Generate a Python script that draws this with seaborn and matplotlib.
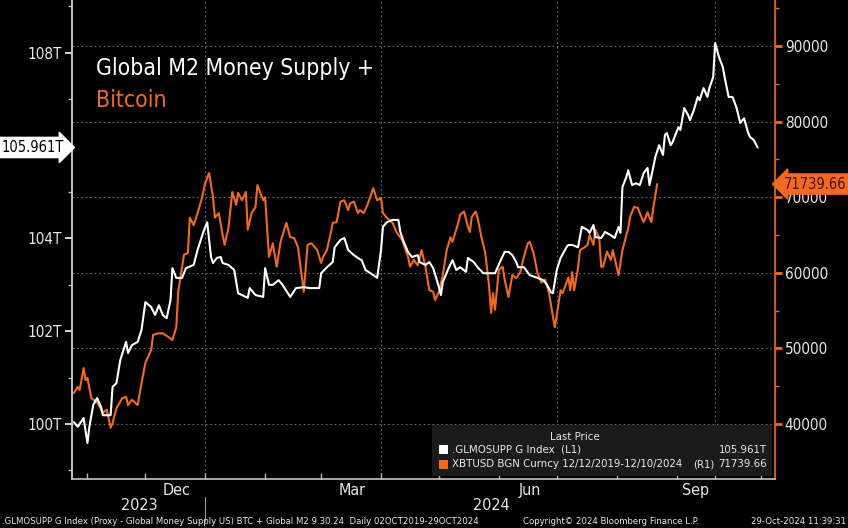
import pandas as pd
import matplotlib
matplotlib.use('Agg')
import matplotlib.pyplot as plt
import matplotlib.dates as mdates
import matplotlib.transforms as mtransforms
from matplotlib.patches import Rectangle
from matplotlib.ticker import FixedLocator, MultipleLocator, NullFormatter
import seaborn as sns

# day offsets from 2024-01-01 (as plotted on the chart's shifted axis)
base = pd.Timestamp('2024-01-01')

m2_day = [-68, -66, -63, -61, -60, -58, -56, -54, -53, -49, -48, -46, -44, -41, -40, -38, -35, -33,
          -31, -28, -26, -24, -22, -20, -18, -17, -15, -12, -10, -6, -4, -1, 1, 3, 4, 6, 8, 9, 12, 15,
          17, 19, 22, 23, 26, 30, 31, 33, 35, 38, 40, 44, 47, 51, 54, 59, 60, 63, 66, 67, 70, 72, 74,
          77, 79, 81, 83, 87, 89, 91, 92, 94, 97, 100, 101, 103, 105, 107, 110, 111, 114, 116, 118,
          121, 122, 123, 126, 128, 130, 132, 135, 136, 139, 141, 144, 148, 150, 153, 155, 157, 159,
          161, 162, 165, 168, 172, 175, 177, 179, 180, 182, 184, 187, 188, 190, 193, 195, 198, 199,
          201, 202, 205, 207, 210, 212, 214, 215, 216, 218, 219, 221, 223, 225, 227, 229, 230, 232,
          233, 235, 237, 238, 239, 241, 242, 245, 246, 248, 250, 251, 253, 255, 256, 258, 260, 261,
          263, 264, 266, 268, 269, 271, 273, 275, 277, 279, 281, 282, 284, 286]
m2_value = [100.04, 99.94, 100.13, 99.59, 99.94, 100.41, 100.56, 100.37, 100.19, 100.19, 100.80, 100.88,
            101.38, 101.77, 101.53, 101.70, 101.77, 102.03, 102.63, 102.52, 102.35, 102.56, 102.35,
            102.28, 102.67, 103.36, 103.15, 103.15, 103.36, 103.43, 103.75, 104.14, 104.35, 103.60,
            103.47, 103.58, 103.60, 103.47, 103.43, 103.32, 102.82, 102.78, 102.72, 102.93, 102.78,
            102.74, 103.36, 103.00, 103.00, 103.10, 103.00, 102.74, 102.93, 102.95, 102.93, 102.93,
            103.25, 103.38, 103.49, 103.81, 103.97, 104.01, 103.75, 103.64, 103.58, 103.53, 103.32,
            103.21, 103.15, 103.75, 104.25, 104.35, 104.40, 104.40, 104.14, 103.90, 103.71, 103.60,
            103.64, 103.49, 103.43, 103.49, 103.36, 102.95, 102.78, 103.06, 103.36, 103.53, 103.32,
            103.38, 103.28, 103.58, 103.49, 103.38, 103.25, 103.25, 103.25, 103.53, 103.71, 103.71,
            103.64, 103.49, 103.38, 103.38, 103.21, 103.15, 103.10, 103.00, 102.84, 102.82, 103.32,
            103.58, 103.81, 103.86, 103.86, 103.81, 104.25, 104.18, 104.12, 104.29, 104.03, 104.01,
            104.14, 104.07, 104.01, 104.25, 104.12, 105.11, 105.32, 105.47, 105.15, 105.19, 105.15,
            105.41, 105.52, 105.15, 105.54, 105.75, 106.01, 105.80, 106.23, 106.27, 106.01, 106.08,
            106.40, 106.34, 106.81, 106.66, 106.55, 106.77, 107.05, 106.98, 107.24, 107.05, 107.24,
            107.48, 108.21, 107.91, 107.69, 107.46, 107.05, 107.05, 106.83, 106.49, 106.59, 106.29,
            106.19, 106.12, 105.961]

btc_day = [-68, -66, -65, -63, -62, -61, -59, -56, -53, -51, -49, -48, -46, -43, -41, -40, -38, -35,
           -33, -31, -28, -27, -24, -22, -19, -17, -15, -14, -11, -9, -8, -6, -4, -2, 0, 2, 4, 5, 7, 9,
           10, 12, 14, 16, 17, 19, 21, 22, 24, 26, 27, 30, 31, 33, 35, 37, 39, 42, 44, 46, 48, 51, 53,
           55, 58, 60, 61, 63, 65, 66, 68, 70, 72, 74, 75, 77, 79, 80, 82, 84, 87, 89, 91, 92, 94, 97,
           99, 102, 105, 106, 108, 110, 112, 114, 116, 118, 119, 121, 123, 125, 127, 128, 131, 132,
           134, 136, 137, 138, 140, 141, 143, 145, 147, 148, 149, 150, 152, 154, 155, 157, 159, 161,
           163, 165, 167, 168, 170, 172, 174, 176, 178, 180, 181, 182, 184, 185, 188, 189, 190, 191,
           193, 194, 196, 198, 199, 201, 202, 204, 205, 206, 208, 210, 211, 213, 214, 216, 219, 220,
           222, 224, 225, 227, 229, 231, 232, 234]
btc_value = [44100, 44900, 44500, 47400, 45800, 46100, 43400, 42900, 41500, 41900, 39500, 40100, 42100,
             43400, 43600, 42500, 43200, 42500, 45400, 48100, 49800, 51800, 52000, 52000, 51500, 51100,
             52800, 57500, 62400, 62600, 67300, 66300, 67900, 69600, 71900, 73200, 70000, 67300, 67900,
             65000, 63700, 65900, 70700, 69000, 70600, 69600, 70700, 65700, 67900, 68700, 71600, 69600,
             70000, 62100, 63900, 60800, 64100, 66600, 64700, 64600, 63400, 57500, 63700, 63900, 63000,
             61300, 62100, 63000, 65300, 66600, 66700, 69400, 69600, 68300, 69200, 69400, 67900, 68300,
             67900, 69000, 71200, 69600, 69900, 67900, 67300, 66600, 65400, 64300, 62100, 60800, 61700,
             61000, 63000, 60800, 57700, 57500, 56400, 57500, 59700, 63000, 64700, 64100, 66600, 67700,
             68100, 66100, 65400, 67400, 68100, 67300, 64700, 62600, 58100, 54700, 57300, 55100, 60400,
             60800, 59100, 56800, 59700, 59300, 60000, 62100, 63900, 64100, 62600, 60000, 58700, 59100,
             57300, 54200, 52800, 54400, 57700, 57300, 59400, 57700, 60100, 57700, 60600, 63000, 63300,
             63700, 65000, 63700, 65700, 64600, 60800, 60800, 62800, 61700, 63000, 60800, 59700, 63000,
             65900, 67400, 68700, 68600, 67900, 66700, 68000, 66700, 68700, 71739.66]

m2_last = 105.961
btc_last = 71739.66

x_tick_dates = ['2023-11-01', '2023-12-01', '2024-01-01', '2024-02-01', '2024-03-01', '2024-04-01',
                '2024-05-01', '2024-06-01', '2024-07-01', '2024-08-01', '2024-09-01', '2024-09-21',
                '2024-10-15']
month_labels = ['Dec', 'Mar', 'Jun', 'Sep']
month_label_dates = ['2023-12-17', '2024-03-17', '2024-06-17', '2024-09-11']
grid_dates = ['2024-01-01', '2024-04-01', '2024-07-01', '2024-09-21']
year_labels = ['2023', '2024']
year_label_dates = ['2023-11-28', '2024-05-28']

orange = '#f26a21'
fg = '#e8e8e8'

m2 = pd.DataFrame({'date': base + pd.to_timedelta(m2_day, unit='D'), 'value': m2_value})
btc = pd.DataFrame({'date': base + pd.to_timedelta(btc_day, unit='D'), 'value': btc_value})

sns.set_theme(style='dark', rc={'figure.facecolor': 'black', 'axes.facecolor': 'black',
                                'savefig.facecolor': 'black', 'text.color': fg,
                                'xtick.color': fg, 'ytick.color': fg, 'axes.labelcolor': fg})
plt.rcParams['font.family'] = ['DejaVu Sans']
plt.rcParams['font.stretch'] = 'condensed'

fig = plt.figure(figsize=(8.48, 5.28), dpi=100)
ax = fig.add_axes([72 / 848, 49 / 528, 703 / 848, 479 / 528])
ax2 = ax.twinx()

sns.lineplot(data=btc, x='date', y='value', ax=ax2, color=orange, lw=1.5, estimator=None)
sns.lineplot(data=m2, x='date', y='value', ax=ax, color='white', lw=1.5, estimator=None)

ax.set_zorder(ax2.get_zorder() + 1)
ax.patch.set_visible(False)
ax2.patch.set_facecolor('black')

ax.set_xlim(pd.Timestamp('2023-10-24'), pd.Timestamp('2024-10-22'))
ax.set_ylim(98.815, 109.14)
ax2.set_ylim(32725, 96085)

# spines
for a in (ax, ax2):
    a.spines['top'].set_visible(False)
    a.set_xlabel('')
    a.set_ylabel('')
    a.grid(False)
ax.spines['left'].set_color('#d8d8d8')
ax.spines['bottom'].set_color('#bdbdbd')
ax.spines['right'].set_visible(False)
ax2.spines['left'].set_visible(False)
ax2.spines['bottom'].set_visible(False)
ax2.spines['right'].set_color(orange)
ax2.spines['right'].set_linewidth(1.2)

# left axis ticks
ax.yaxis.set_major_locator(FixedLocator([100, 102, 104, 106, 108]))
ax.set_yticklabels(['100T', '102T', '104T', '', '108T'], fontsize=11)
ax.yaxis.set_minor_locator(MultipleLocator(1))
ax.tick_params(axis='y', which='major', length=5, width=1.2, color='white', pad=2, left=True)
ax.tick_params(axis='y', which='minor', length=3, width=1, color='#bbbbbb', left=True)

# right axis ticks
ax2.yaxis.set_major_locator(FixedLocator([40000, 50000, 60000, 70000, 80000, 90000]))
ax2.set_yticklabels(['40000', '50000', '60000', '70000', '80000', '90000'], fontsize=11)
ax2.yaxis.set_minor_locator(FixedLocator([45000, 55000, 65000, 75000, 85000, 95000]))
ax2.tick_params(axis='y', which='major', length=5, width=2, color=orange, pad=2, right=True)
ax2.tick_params(axis='y', which='minor', length=3, width=1, color=orange, right=True)
ax2.grid(axis='y', which='major', linestyle=(0, (1.5, 2.5)), color='#6a6a6a', lw=0.8)

# x axis: tick marks at boundaries, labels centred in months
ax.xaxis.set_minor_locator(FixedLocator(mdates.date2num(pd.to_datetime(x_tick_dates))))
ax.xaxis.set_minor_formatter(NullFormatter())
ax.xaxis.set_major_locator(FixedLocator(mdates.date2num(pd.to_datetime(month_label_dates))))
ax.set_xticklabels(month_labels, fontsize=11.5)
ax.tick_params(axis='x', which='major', length=0, pad=3, bottom=True)
ax.tick_params(axis='x', which='minor', length=4, width=1, color='#bdbdbd', direction='in', bottom=True)

for d in grid_dates:
    ax2.axvline(pd.Timestamp(d), linestyle=(0, (1.5, 2.5)), color='#6a6a6a', lw=0.8, zorder=0)

xy_blend = mtransforms.blended_transform_factory(ax.transData, ax.transAxes)
for lab, d in zip(year_labels, year_label_dates):
    ax.text(pd.Timestamp(d), -0.056, lab, transform=xy_blend, ha='center', va='center',
            fontsize=11.5, color=fg)
ax.axvline(pd.Timestamp('2024-01-01'), ymin=-0.087, ymax=-0.038, clip_on=False, color='#9a9a9a', lw=0.8)

# title
ax.text(0.034, 0.857, 'Global M2 Money Supply +', transform=ax.transAxes, fontsize=16.5,
        color='white', va='center', ha='left')
ax.text(0.034, 0.79, 'Bitcoin', transform=ax.transAxes, fontsize=16.5, color=orange,
        va='center', ha='left')

# last value markers
yl = mtransforms.blended_transform_factory(ax.transAxes, ax.transData)
ax.text(-0.012, m2_last, f'{m2_last:.3f}T', transform=yl, ha='right', va='center', fontsize=10.5,
        color='black', clip_on=False, zorder=10,
        bbox=dict(boxstyle='rarrow,pad=0.18', fc='white', ec='white'))
yr = mtransforms.blended_transform_factory(ax2.transAxes, ax2.transData)
ax2.text(1.012, btc_last, f'{btc_last:.2f}', transform=yr, ha='left', va='center', fontsize=10.5,
         color='#4a1000', clip_on=False, zorder=10,
         bbox=dict(boxstyle='larrow,pad=0.18', fc=orange, ec=orange))

# legend box
ax.add_patch(Rectangle((0.512, 0.006), 0.484, 0.107, transform=ax.transAxes,
                       fc='#1b1b1b', ec='none', zorder=8))
ax.text(0.716, 0.088, 'Last Price', transform=ax.transAxes, ha='center', va='center',
        fontsize=8.2, color=fg, zorder=9)
rows = [('white', '.GLMOSUPP G Index  (L1)', '', f'{m2_last:.3f}T'),
        (orange, 'XBTUSD BGN Curncy 12/12/2019-12/10/2024', '(R1)', f'{btc_last:.2f}')]
for i, (c, name, side, val) in enumerate(rows):
    yy = 0.061 - i * 0.030
    ax.add_patch(Rectangle((0.5215, yy - 0.0095), 0.0128, 0.019, transform=ax.transAxes,
                           fc=c, ec='none', zorder=9))
    ax.text(0.5405, yy, name, transform=ax.transAxes, ha='left', va='center', fontsize=8.2,
            color=fg, zorder=9)
    if side:
        ax.text(0.884, yy, side, transform=ax.transAxes, ha='left', va='center', fontsize=8.2,
                color=fg, zorder=9)
    ax.text(0.988, yy, val, transform=ax.transAxes, ha='right', va='center', fontsize=8.2,
            color=fg, zorder=9)

# footer
fig.text(0.002, 0.013, '.GLMOSUPP G Index (Proxy - Global Money Supply US) BTC + Global M2 9.30.24  '
         'Daily 02OCT2019-29OCT2024', ha='left', va='center', fontsize=6.8, color=fg)
fig.text(0.72, 0.013, 'Copyright\u00a9 2024 Bloomberg Finance L.P.', ha='center', va='center',
         fontsize=6.8, color=fg)
fig.text(0.998, 0.013, '29-Oct-2024 11:39:31', ha='right', va='center', fontsize=6.8, color=fg)

fig.savefig('out.png', dpi=100, facecolor='black')
